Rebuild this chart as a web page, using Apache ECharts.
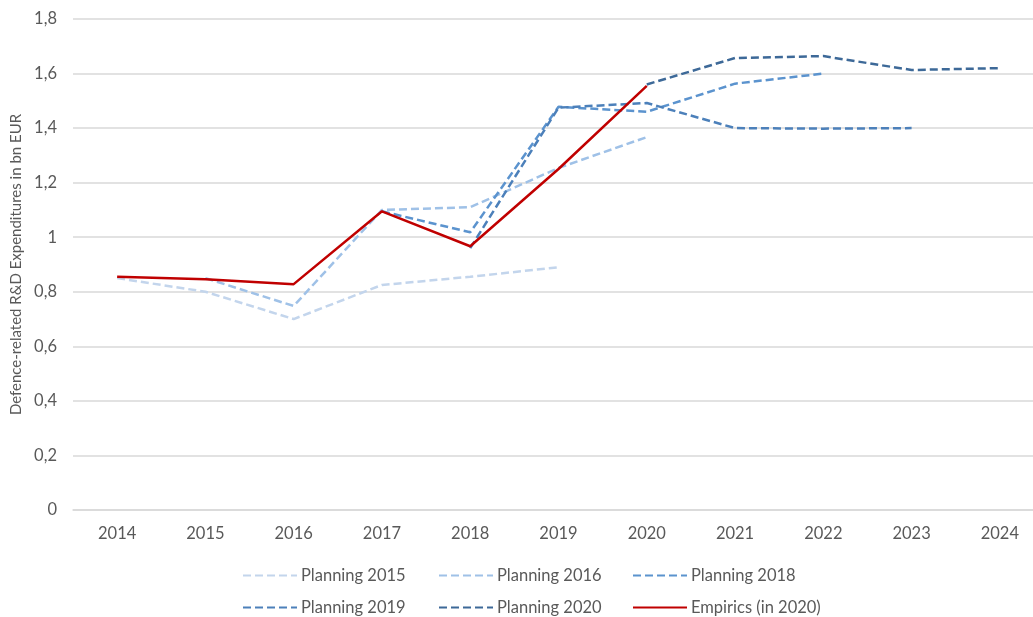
<!DOCTYPE html>
<html>
<head>
<meta charset="utf-8">
<script src="https://cdn.jsdelivr.net/npm/echarts@6/dist/echarts.min.js"></script>
<style>html,body{margin:0;padding:0;background:#fff;overflow:hidden;}#c{width:1046px;height:617px;}</style>
</head>
<body>
<div id="c"></div>
<script>
const years = ['2014','2015','2016','2017','2018','2019','2020','2021','2022','2023','2024'];
const yTicks = [0, 0.2, 0.4, 0.6, 0.8, 1, 1.2, 1.4, 1.6, 1.8];
const planning2015 = [0.85, 0.80, 0.70, 0.825, 0.855, 0.89, null, null, null, null, null];
const planning2016 = [null, 0.85, 0.748, 1.10, 1.11, 1.254, 1.367, null, null, null, null];
const planning2018 = [null, null, null, 1.095, 1.018, 1.478, 1.46, 1.563, 1.60, null, null];
const planning2019 = [null, null, null, null, 0.96, 1.475, 1.492, 1.40, 1.398, 1.40, null];
const planning2020 = [null, null, null, null, null, null, 1.56, 1.657, 1.664, 1.613, 1.62];
const empirics = [0.855, 0.846, 0.828, 1.095, 0.967, 1.25, 1.555, null, null, null, null];

const FONT = 'Lato';
const dash = [8, 4];
function dashed(name, data, color) {
  return {
    name: name, type: 'line', data: data, symbol: 'none', connectNulls: false,
    lineStyle: { color: color, width: 2.5, type: dash, cap: 'butt' },
    itemStyle: { color: color }, z: 2
  };
}
const series = [
  dashed('Planning 2015', planning2015, '#C3D5EC'),
  dashed('Planning 2016', planning2016, '#9FC1E7'),
  dashed('Planning 2018', planning2018, '#5B93CE'),
  dashed('Planning 2019', planning2019, '#4C80BA'),
  dashed('Planning 2020', planning2020, '#3D6998'),
  { name: 'Empirics (in 2020)', type: 'line', data: empirics, symbol: 'none',
    lineStyle: { color: '#C00000', width: 2.5 }, itemStyle: { color: '#C00000' }, z: 3 }
];
function leg(name, left, top) {
  return {
    data: [name], left: left, top: top, padding: 0, itemWidth: 54, itemHeight: 14,
    selectedMode: false, itemStyle: { opacity: 0 },
    textStyle: { fontFamily: FONT, fontSize: 16.5, color: '#595959', padding: [0, 0, 0, -1] }
  };
}
const chart = echarts.init(document.getElementById('c'), null, { renderer: 'canvas' });
chart.setOption({
  animation: false,
  backgroundColor: '#fff',
  grid: { left: 73, top: 19, right: 2, bottom: 107, containLabel: false },
  legend: [
    leg('Planning 2015', 242, 567),
    leg('Planning 2016', 438, 567),
    leg('Planning 2018', 632, 567),
    leg('Planning 2019', 242, 599),
    leg('Planning 2020', 438, 599),
    leg('Empirics (in 2020)', 632, 599)
  ],
  xAxis: {
    type: 'category', data: years, boundaryGap: true,
    axisLine: { show: true, lineStyle: { color: '#D9D9D9', width: 1.5 } },
    axisTick: { show: false },
    axisLabel: { fontFamily: FONT, fontSize: 16.5, color: '#595959', margin: 15 }
  },
  yAxis: {
    type: 'value', min: 0, max: 1.8, interval: 0.2,
    name: 'Defence-related R&D Expenditures in bn EUR', nameLocation: 'middle', nameGap: 47,
    nameTextStyle: { fontFamily: FONT, fontSize: 15, color: '#595959' },
    axisLine: { show: false }, axisTick: { show: false },
    splitLine: { lineStyle: { color: '#D9D9D9', width: 1.5 } },
    axisLabel: { fontFamily: FONT, fontSize: 16.5, color: '#595959', margin: 16,
      formatter: function (v) {
        const t = yTicks.find(x => Math.abs(x - v) < 1e-6);
        return String(+(t !== undefined ? t : v).toFixed(1)).replace('.', ',');
      } }
  },
  series: series
});
</script>
</body>
</html>
